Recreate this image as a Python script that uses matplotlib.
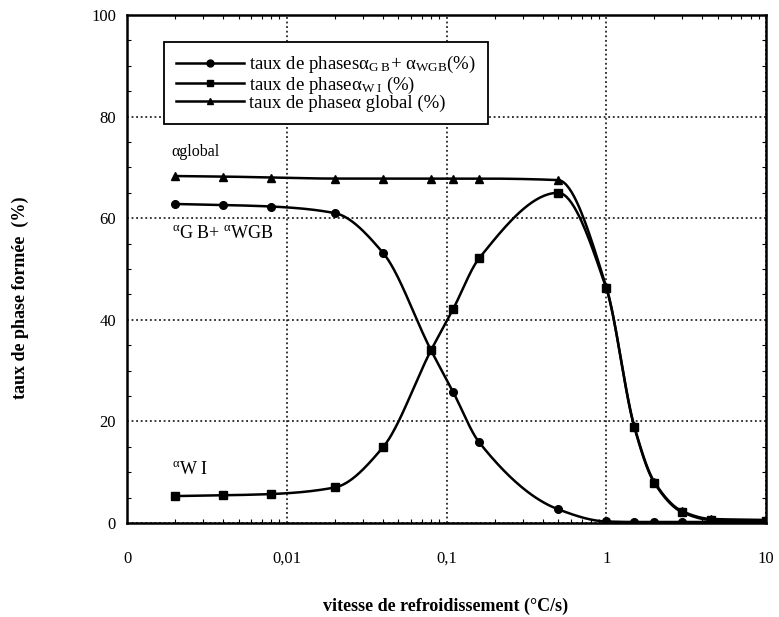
import numpy as np
import matplotlib
matplotlib.use('Agg')
import matplotlib.pyplot as plt
from matplotlib.lines import Line2D
from matplotlib.ticker import FixedLocator, LogLocator, MultipleLocator, NullFormatter

plt.rcParams['font.family'] = ['Liberation Serif', 'DejaVu Serif']
plt.rcParams['mathtext.fontset'] = 'custom'
plt.rcParams['mathtext.rm'] = 'Liberation Serif'
plt.rcParams['mathtext.it'] = 'Liberation Serif:italic'
plt.rcParams['mathtext.bf'] = 'Liberation Serif:bold'

# cooling rate (°C/s)
vitesse = [0.002, 0.004, 0.008, 0.02, 0.04, 0.08, 0.11, 0.16, 0.5, 1, 1.5, 2, 3, 4.5, 10]
# phase fractions (%)
alpha_gb_wgb = [62.8, 62.6, 62.3, 61.0, 53.2, 34.0, 25.8, 15.9, 2.7, 0.3, 0.2, 0.2, 0.2, 0.2, 0.2]
alpha_wi = [5.3, 5.45, 5.7, 7.0, 14.9, 34.0, 42.1, 52.1, 65.0, 46.2, 18.8, 7.9, 2.1, 0.6, 0.4]
alpha_global = [68.3, 68.2, 68.0, 67.8, 67.8, 67.8, 67.8, 67.8, 67.5, 46.5, 19.0, 8.1, 2.3, 0.8, 0.6]

x_ticks = [0.001, 0.01, 0.1, 1, 10]
x_ticklabels = ['0', '0,01', '0,1', '1', '10']
y_ticks = [0, 20, 40, 60, 80, 100]

legend_labels = [r'taux de phases$\mathrm{α_{G\ B}}$+ $\mathrm{α_{WGB}}$(%)',
                 r'taux de phase$\mathrm{α_{W\ I}}$ (%)',
                 r'taux de phaseα global (%)']


def smooth(xs, ys, n=40):
    # monotone cubic through the points, in log-x
    u = np.log10(np.asarray(xs, float))
    y = np.asarray(ys, float)
    h = np.diff(u)
    d = np.diff(y) / h
    m = np.zeros_like(y)
    m[0], m[-1] = d[0], d[-1]
    for k in range(1, len(y) - 1):
        if d[k - 1] * d[k] > 0:
            w1 = 2 * h[k] + h[k - 1]
            w2 = h[k] + 2 * h[k - 1]
            m[k] = (w1 + w2) / (w1 / d[k - 1] + w2 / d[k])
    t = np.linspace(0, 1, n)
    su, sy = [], []
    for k in range(len(h)):
        h00 = 2 * t ** 3 - 3 * t ** 2 + 1
        h10 = t ** 3 - 2 * t ** 2 + t
        h01 = -2 * t ** 3 + 3 * t ** 2
        h11 = t ** 3 - t ** 2
        su.append(u[k] + t * h[k])
        sy.append(h00 * y[k] + h10 * h[k] * m[k] + h01 * y[k + 1] + h11 * h[k] * m[k + 1])
    return 10 ** np.concatenate(su), np.concatenate(sy)


fig = plt.figure(figsize=(7.79, 6.17), dpi=100)
ax = fig.add_axes([127 / 779, 94 / 617, 639 / 779, 508 / 617])

lw = 1.8
for ys, mk, ms in [(alpha_global, '^', 5.5), (alpha_wi, 's', 5.5), (alpha_gb_wgb, 'o', 5.5)]:
    sx, sy = smooth(vitesse, ys)
    ax.plot(sx, sy, color='black', lw=lw, zorder=3)
    ax.plot(vitesse, ys, linestyle='none', marker=mk, ms=ms, color='black', zorder=4)

ax.set_xscale('log')
ax.set_xlim(0.001, 10)
ax.set_ylim(0, 100)
ax.xaxis.set_major_locator(FixedLocator(x_ticks))
ax.set_xticklabels(x_ticklabels)
ax.xaxis.set_minor_locator(LogLocator(base=10, subs=np.arange(2, 10)))
ax.xaxis.set_minor_formatter(NullFormatter())
ax.set_yticks(y_ticks)
ax.yaxis.set_minor_locator(MultipleLocator(5))

ax.grid(True, which='major', linestyle=(0, (1.2, 1.8)), color='black', lw=1.1)
ax.tick_params(which='major', length=0, labelsize=12)
ax.tick_params(axis='x', which='major', pad=20)
ax.tick_params(axis='y', which='major', pad=8)
ax.tick_params(which='minor', direction='in', length=3, width=0.8, top=True, right=True)
for s in ax.spines.values():
    s.set_linewidth(1.8)

ax.text(0.0019, 73, 'αglobal', fontsize=11.5, va='center', ha='left')
ax.text(0.0019, 57, r'${}^{\mathrm{α}}\mathrm{G\ B}$+ ${}^{\mathrm{α}}\mathrm{WGB}$', fontsize=13,
        va='center', ha='left')
ax.text(0.0019, 10.5, r'${}^{\mathrm{α}}\mathrm{W\ I}$', fontsize=13, va='center', ha='left')

handles = [Line2D([], [], color='black', lw=lw, marker='o', ms=5),
           Line2D([], [], color='black', lw=lw, marker='s', ms=5),
           Line2D([], [], color='black', lw=lw, marker='^', ms=5)]
leg = ax.legend(handles, legend_labels, loc='upper left', bbox_to_anchor=(164 / 779, 1 - 42 / 617),
                bbox_transform=fig.transFigure, borderaxespad=0, fancybox=False, framealpha=1,
                edgecolor='black', fontsize=13.5, handlelength=3.6, handletextpad=0.3,
                labelspacing=-0.05, borderpad=0.65)
leg.get_frame().set_linewidth(1.3)

fig.text(446 / 779, 1 - 606 / 617, 'vitesse de refroidissement (°C/s)', fontsize=13,
         fontweight='bold', ha='center', va='center')
fig.text(20 / 779, 1 - 298 / 617, 'taux de phase formée  (%)', fontsize=13,
         fontweight='bold', ha='center', va='center', rotation=90)

fig.savefig('out.png', dpi=100)
